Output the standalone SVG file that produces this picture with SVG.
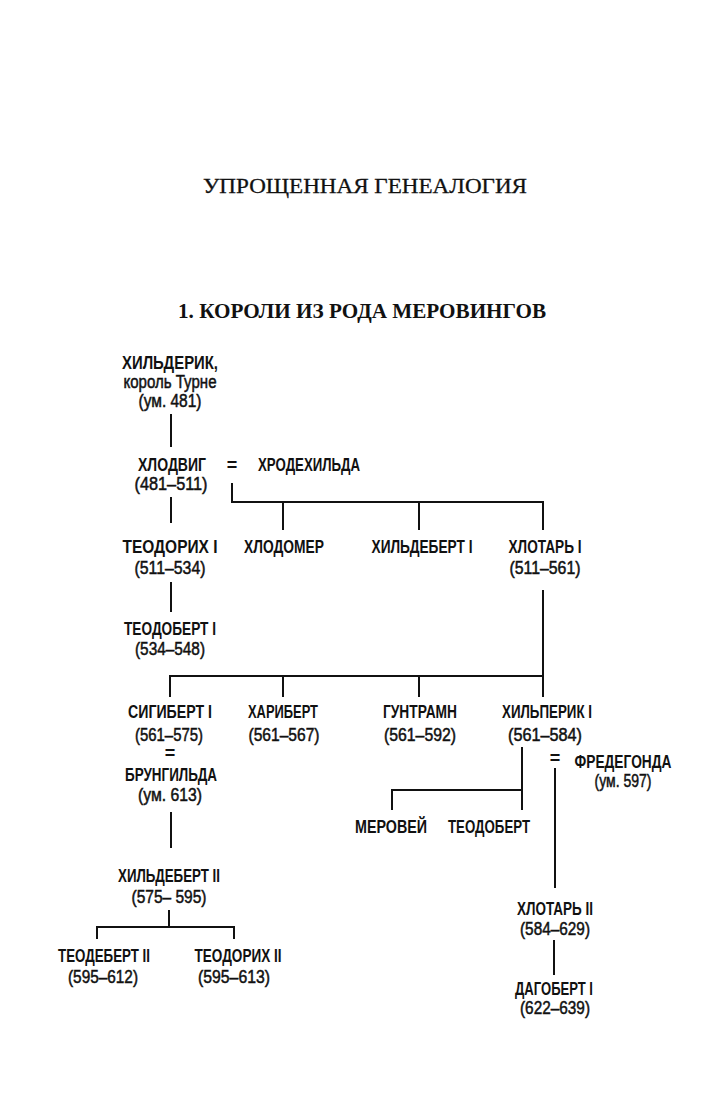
<svg xmlns="http://www.w3.org/2000/svg" width="728" height="1111" viewBox="0 0 728 1111">
<style>
.t{font-family:"Liberation Serif","DejaVu Serif",serif;font-size:21px;fill:#111;stroke:#111;stroke-width:0.3}
.s{font-family:"Liberation Serif","DejaVu Serif",serif;font-size:20px;font-weight:bold;fill:#111}
.n{font-family:"Liberation Sans Narrow","Liberation Sans",Arial,sans-serif;font-size:18px;font-weight:bold;fill:#111;text-anchor:middle}
.d{font-family:"Liberation Sans Narrow","Liberation Sans",Arial,sans-serif;font-size:18px;fill:#111;stroke:#111;stroke-width:0.5;text-anchor:middle}
.l{stroke:#111;stroke-width:2;fill:none}
</style>
<rect width="728" height="1111" fill="#fff"/>
<text class="t" x="203" y="193" textLength="324" lengthAdjust="spacingAndGlyphs">УПРОЩЕННАЯ ГЕНЕАЛОГИЯ</text>
<text class="s" x="178" y="318" textLength="368" lengthAdjust="spacingAndGlyphs">1. КОРОЛИ ИЗ РОДА МЕРОВИНГОВ</text>

<g id="connectors" class="l">
<path d="M171 414V447"/>
<path d="M232 483V502H543V530M283 502V530M419 502V530"/>
<path d="M171 497V523"/>
<path d="M171 582V612"/>
<path d="M543 590V697M170 697V676H543M283 676V697M419 676V697"/>
<path d="M171 812V848"/>
<path d="M169 910V927M97 939V927H234V939"/>
<path d="M522 747V810M392 810V790H522"/>
<path d="M555 768V888"/>
<path d="M554 940V975"/>
</g>

<g id="childeric">
<text class="n" x="170" y="369" textLength="96" lengthAdjust="spacingAndGlyphs">ХИЛЬДЕРИК,</text>
<text class="d" x="170" y="388" textLength="93" lengthAdjust="spacingAndGlyphs">король Турне</text>
<text class="d" x="170" y="407" textLength="63" lengthAdjust="spacingAndGlyphs">(ум. 481)</text>
</g>
<g id="clovis">
<text class="n" x="172" y="471" textLength="68" lengthAdjust="spacingAndGlyphs">ХЛОДВИГ</text>
<text class="d" x="171" y="490" textLength="73" lengthAdjust="spacingAndGlyphs">(481–511)</text>
</g>
<g id="clotilde">
<text class="n" x="232" y="471">=</text>
<text class="n" x="309" y="471" textLength="102" lengthAdjust="spacingAndGlyphs">ХРОДЕХИЛЬДА</text>
</g>
<g id="theuderic1">
<text class="n" x="170" y="553" textLength="95" lengthAdjust="spacingAndGlyphs">ТЕОДОРИХ I</text>
<text class="d" x="170" y="574" textLength="71" lengthAdjust="spacingAndGlyphs">(511–534)</text>
</g>
<g id="chlodomer">
<text class="n" x="284" y="553" textLength="80" lengthAdjust="spacingAndGlyphs">ХЛОДОМЕР</text>
</g>
<g id="childebert1">
<text class="n" x="422" y="553" textLength="101" lengthAdjust="spacingAndGlyphs">ХИЛЬДЕБЕРТ I</text>
</g>
<g id="chlothar1">
<text class="n" x="545" y="553" textLength="73" lengthAdjust="spacingAndGlyphs">ХЛОТАРЬ I</text>
<text class="d" x="545" y="574" textLength="71" lengthAdjust="spacingAndGlyphs">(511–561)</text>
</g>
<g id="theudebert1">
<text class="n" x="170" y="635" textLength="92" lengthAdjust="spacingAndGlyphs">ТЕОДОБЕРТ I</text>
<text class="d" x="170" y="655" textLength="70" lengthAdjust="spacingAndGlyphs">(534–548)</text>
</g>
<g id="sigebert1">
<text class="n" x="170" y="718" textLength="84" lengthAdjust="spacingAndGlyphs">СИГИБЕРТ I</text>
<text class="d" x="169" y="741" textLength="68" lengthAdjust="spacingAndGlyphs">(561–575)</text>
<text class="n" x="170" y="759">=</text>
</g>
<g id="brunhilda">
<text class="n" x="171" y="781" textLength="92" lengthAdjust="spacingAndGlyphs">БРУНГИЛЬДА</text>
<text class="d" x="170" y="801" textLength="64" lengthAdjust="spacingAndGlyphs">(ум. 613)</text>
</g>
<g id="charibert">
<text class="n" x="283" y="718" textLength="70" lengthAdjust="spacingAndGlyphs">ХАРИБЕРТ</text>
<text class="d" x="284" y="741" textLength="71" lengthAdjust="spacingAndGlyphs">(561–567)</text>
</g>
<g id="guntram">
<text class="n" x="420" y="718" textLength="74" lengthAdjust="spacingAndGlyphs">ГУНТРАМН</text>
<text class="d" x="420" y="741" textLength="72" lengthAdjust="spacingAndGlyphs">(561–592)</text>
</g>
<g id="chilperic1">
<text class="n" x="547" y="718" textLength="90" lengthAdjust="spacingAndGlyphs">ХИЛЬПЕРИК I</text>
<text class="d" x="545" y="741" textLength="74" lengthAdjust="spacingAndGlyphs">(561–584)</text>
</g>
<g id="fredegund">
<text class="n" x="555" y="764">=</text>
<text class="n" x="623" y="768" textLength="97" lengthAdjust="spacingAndGlyphs">ФРЕДЕГОНДА</text>
<text class="d" x="623" y="787" textLength="57" lengthAdjust="spacingAndGlyphs">(ум. 597)</text>
</g>
<g id="merovech">
<text class="n" x="391" y="833" textLength="72" lengthAdjust="spacingAndGlyphs">МЕРОВЕЙ</text>
</g>
<g id="theudebert">
<text class="n" x="489" y="833" textLength="82" lengthAdjust="spacingAndGlyphs">ТЕОДОБЕРТ</text>
</g>
<g id="childebert2">
<text class="n" x="169" y="882" textLength="102" lengthAdjust="spacingAndGlyphs">ХИЛЬДЕБЕРТ II</text>
<text class="d" x="169" y="903" textLength="75" lengthAdjust="spacingAndGlyphs">(575– 595)</text>
</g>
<g id="theudebert2">
<text class="n" x="104" y="962" textLength="92" lengthAdjust="spacingAndGlyphs">ТЕОДЕБЕРТ II</text>
<text class="d" x="103" y="983" textLength="70" lengthAdjust="spacingAndGlyphs">(595–612)</text>
</g>
<g id="theuderic2">
<text class="n" x="238" y="962" textLength="87" lengthAdjust="spacingAndGlyphs">ТЕОДОРИХ II</text>
<text class="d" x="234" y="983" textLength="72" lengthAdjust="spacingAndGlyphs">(595–613)</text>
</g>
<g id="chlothar2">
<text class="n" x="555" y="915" textLength="76" lengthAdjust="spacingAndGlyphs">ХЛОТАРЬ II</text>
<text class="d" x="555" y="935" textLength="70" lengthAdjust="spacingAndGlyphs">(584–629)</text>
</g>
<g id="dagobert1">
<text class="n" x="554" y="995" textLength="78" lengthAdjust="spacingAndGlyphs">ДАГОБЕРТ I</text>
<text class="d" x="555" y="1014" textLength="70" lengthAdjust="spacingAndGlyphs">(622–639)</text>
</g>
</svg>
